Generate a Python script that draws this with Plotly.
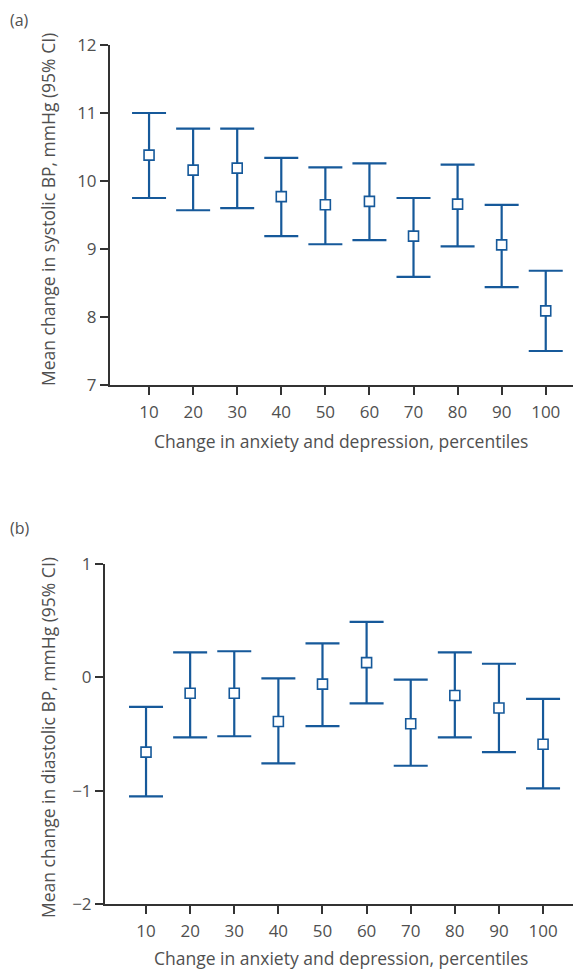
import plotly.graph_objects as go
from plotly.subplots import make_subplots

percentiles = [10, 20, 30, 40, 50, 60, 70, 80, 90, 100]
sys_mean = [10.38, 10.16, 10.19, 9.77, 9.65, 9.70, 9.19, 9.66, 9.06, 8.09]
sys_upper = [11.00, 10.77, 10.77, 10.34, 10.20, 10.26, 9.75, 10.24, 9.65, 8.68]
sys_lower = [9.75, 9.57, 9.60, 9.19, 9.07, 9.13, 8.59, 9.04, 8.44, 7.50]
dia_mean = [-0.66, -0.14, -0.14, -0.39, -0.06, 0.13, -0.41, -0.16, -0.27, -0.59]
dia_upper = [-0.26, 0.22, 0.23, -0.01, 0.30, 0.49, -0.02, 0.22, 0.12, -0.19]
dia_lower = [-1.05, -0.53, -0.52, -0.76, -0.43, -0.23, -0.78, -0.53, -0.66, -0.98]
y_ticks_a = [7, 8, 9, 10, 11, 12]
y_ticks_b = [-2, -1, 0, 1]

BLUE = "#16599a"
AX = "#333333"
TXT = "#505050"
FONT = "Open Sans"
OFF = 8  # page body margin
W, H = 581 - OFF, 970 - OFF
ML, MR, MT, MB = 105 - OFF, 0, 45 - OFF, 970 - 904
PW, PH = W - ML - MR, H - MT - MB

fig = make_subplots(rows=2, cols=1)

def add(mean, up, lo, row):
    fig.add_trace(go.Scatter(
        x=percentiles, y=mean, mode="markers",
        marker=dict(symbol="square", size=10, color="white",
                    line=dict(color=BLUE, width=1.6)),
        error_y=dict(type="data", symmetric=False,
                     array=[u - m for u, m in zip(up, mean)],
                     arrayminus=[m - l for m, l in zip(mean, lo)],
                     color=BLUE, thickness=2.2, width=17),
        showlegend=False), row=row, col=1)

add(sys_mean, sys_upper, sys_lower, 1)
add(dia_mean, dia_upper, dia_lower, 2)

def px_x(px):
    return (px - OFF - ML) / PW

def px_y(py):
    return (H - MB - (py - OFF)) / PH

axis_common = dict(showline=True, linecolor=AX, linewidth=2, ticks="outside",
                   tickcolor=AX, ticklen=8, tickwidth=1.5, showgrid=False,
                   zeroline=False, tickfont=dict(family=FONT, size=17, color=TXT),
                   automargin=False)

fig.update_xaxes(**axis_common, tickvals=percentiles, ticklabelstandoff=3)
fig.update_xaxes(domain=[px_x(110), 1], range=[1.14, 108], row=1, col=1)
fig.update_xaxes(domain=[px_x(105), 1], range=[0.7, 108.6], row=2, col=1)

fig.update_yaxes(**axis_common)
fig.update_yaxes(domain=[px_y(385), px_y(45)], range=[7, 12], tickvals=y_ticks_a,
                 row=1, col=1)
fig.update_yaxes(domain=[px_y(904), px_y(564)], range=[-2, 1], tickvals=y_ticks_b,
                 row=2, col=1)

tfont = dict(family=FONT, size=17.5, color=TXT)
xt = "Change in anxiety and depression, percentiles"
for cy in (441, 958):
    fig.add_annotation(text=xt, xref="paper", yref="paper", x=px_x(341), y=px_y(cy),
                       xanchor="center", yanchor="middle", showarrow=False, font=tfont)
fig.add_annotation(text="Mean change in systolic BP, mmHg (95% CI)", xref="paper",
                   yref="paper", x=px_x(48), y=px_y(210), textangle=-90,
                   xanchor="center", yanchor="middle", showarrow=False, font=tfont)
fig.add_annotation(text="Mean change in diastolic BP, mmHg (95% CI)", xref="paper",
                   yref="paper", x=px_x(48), y=px_y(738), textangle=-90,
                   xanchor="center", yanchor="middle", showarrow=False, font=tfont)

lfont = dict(family=FONT, size=16, color=TXT)
fig.add_annotation(text="(a)", xref="paper", yref="paper", x=px_x(8.5), y=px_y(OFF),
                   xanchor="left", yanchor="top", showarrow=False, font=lfont,
                   borderpad=0)
fig.add_annotation(text="(b)", xref="paper", yref="paper", x=px_x(8.5), y=px_y(528),
                   xanchor="left", yanchor="middle", showarrow=False, font=lfont,
                   borderpad=0)

fig.update_layout(width=W, height=H, margin=dict(l=ML, r=MR, t=MT, b=MB),
                  plot_bgcolor="white", paper_bgcolor="white")

fig.write_html("out.html")
